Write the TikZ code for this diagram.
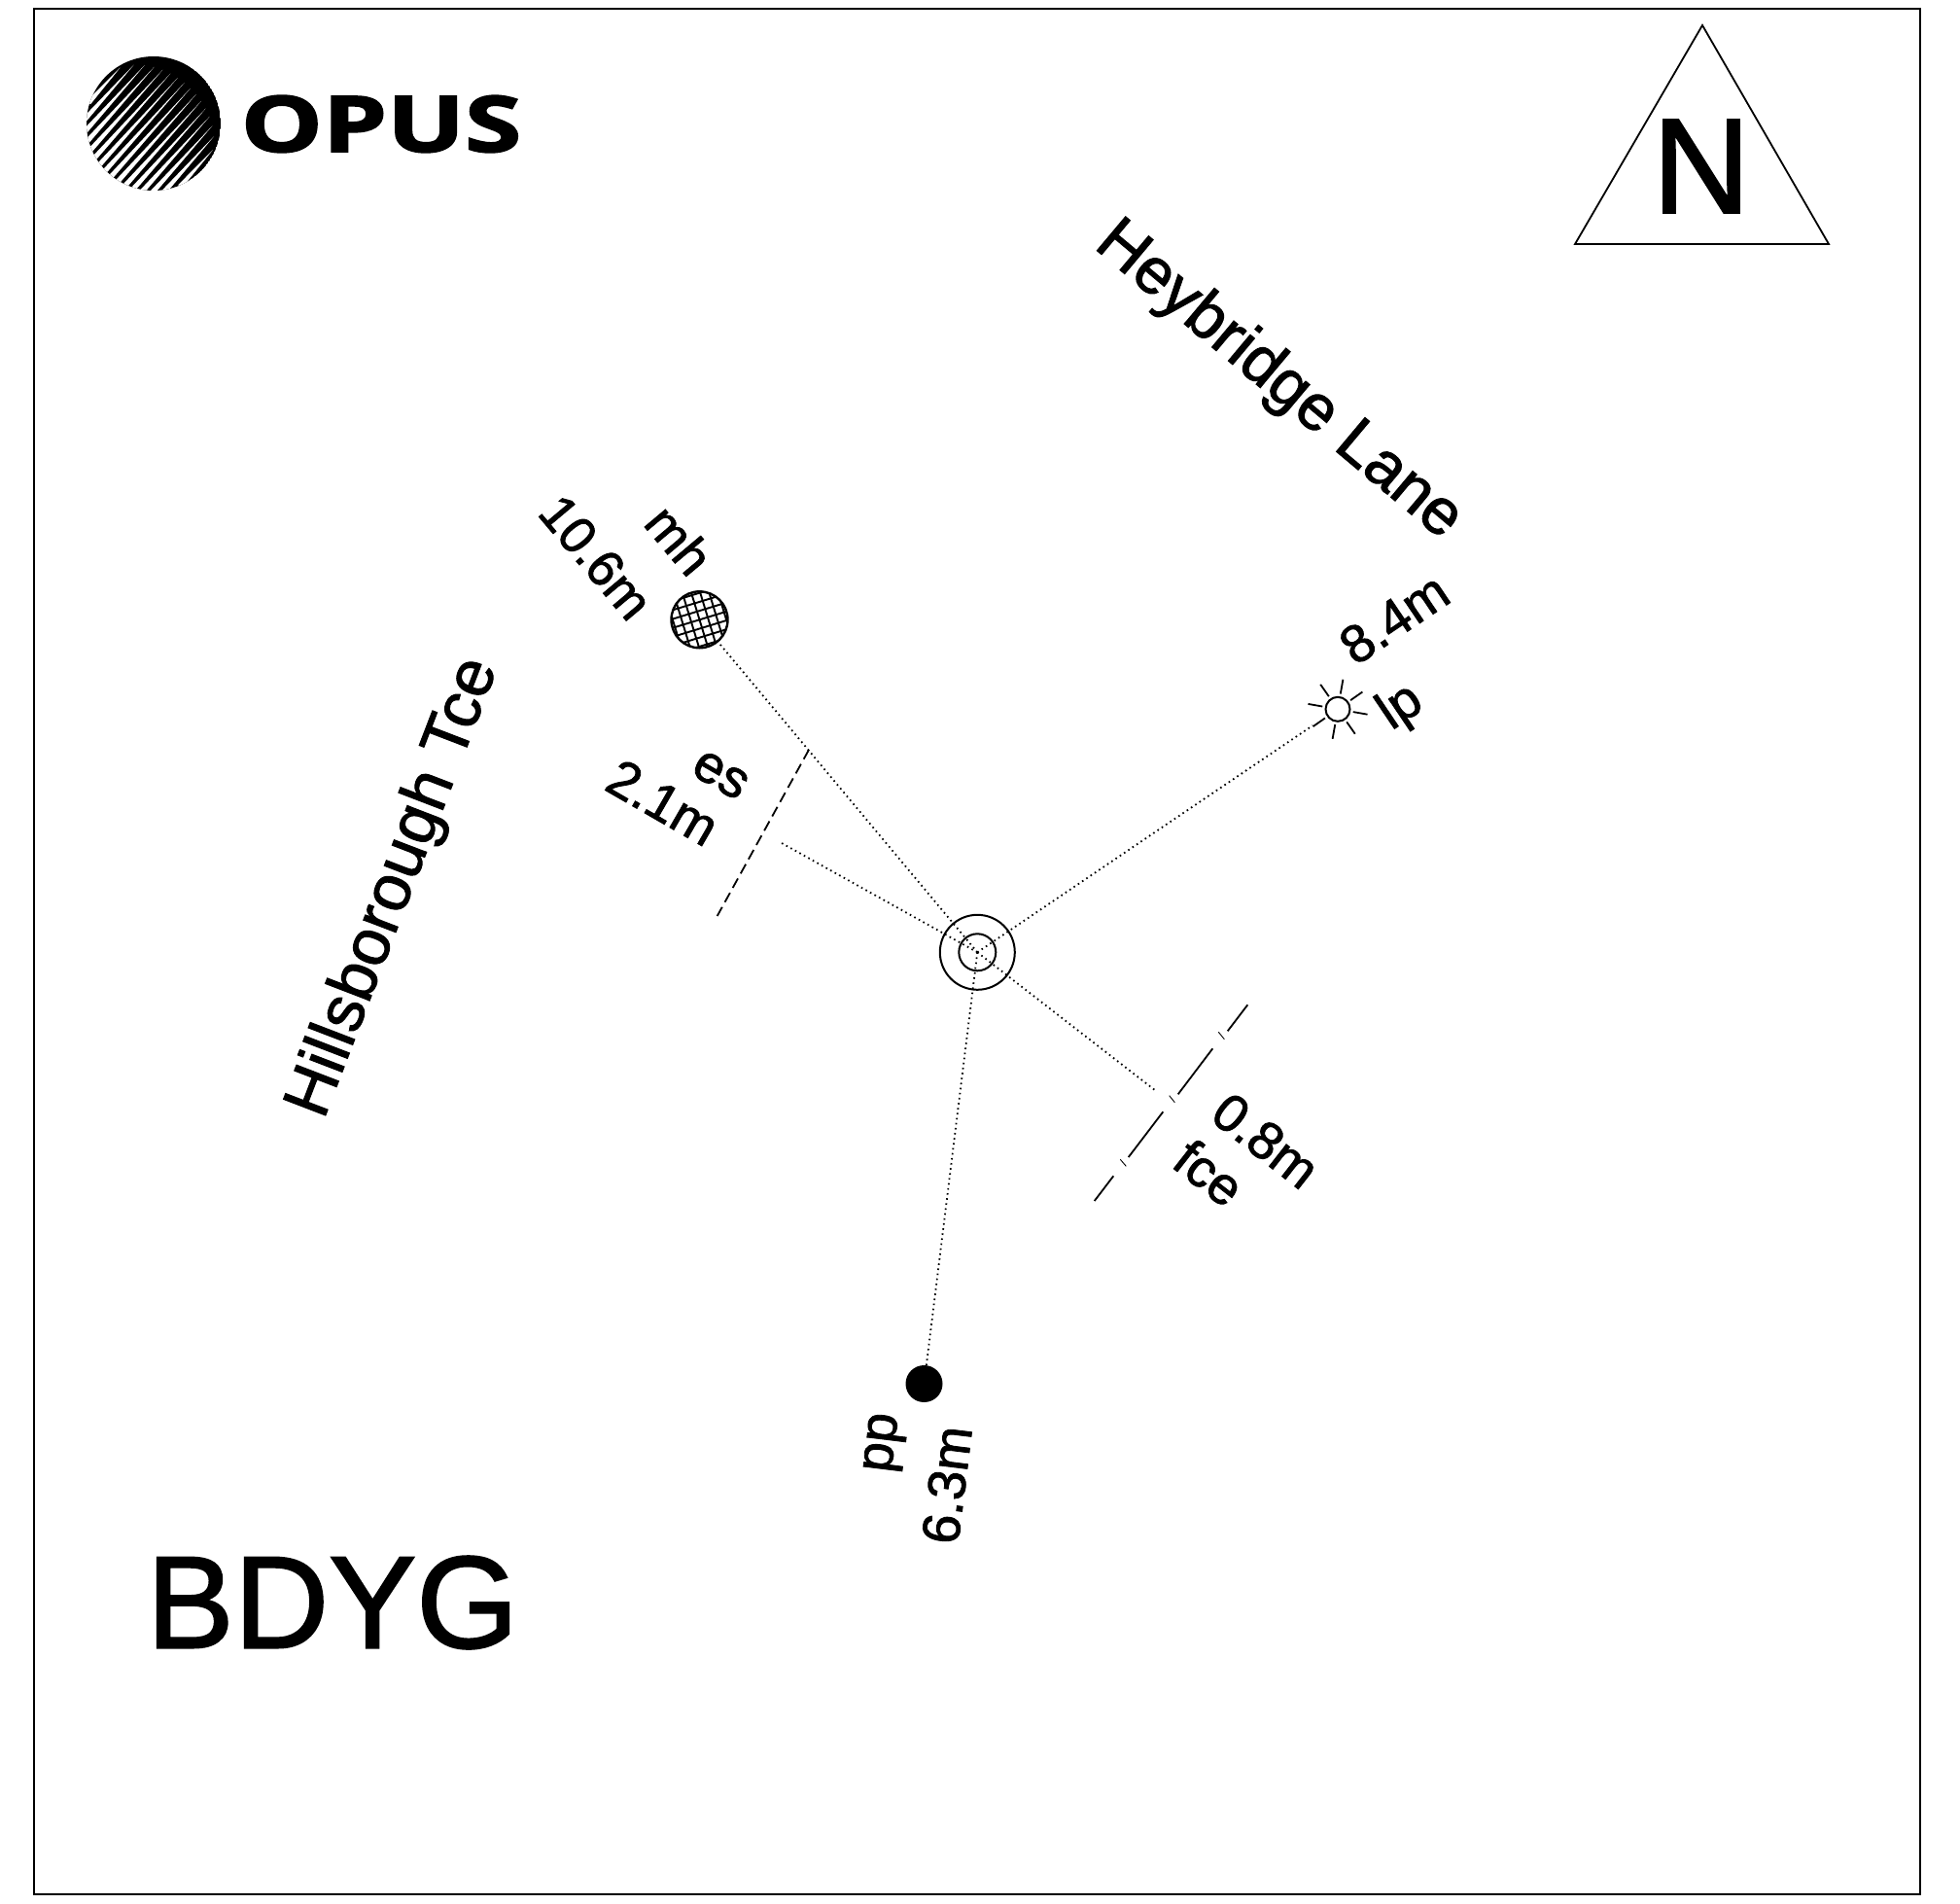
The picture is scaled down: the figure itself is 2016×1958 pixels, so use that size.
\documentclass[tikz,border=0pt]{standalone}
\usepackage{fontspec}
\usetikzlibrary{calc}
\setmainfont{Liberation Sans}[FakeBold=1.5]
\newfontfamily\logofont{Open Sans}[FakeBold=2]
\tikzset{
  frame/.style={draw=black,line width=1.6pt},
  ring/.style={circle,draw=black,line width=2pt,inner sep=0pt},
  dotline/.style={draw=black,line width=1.8pt,dash pattern=on 1.6pt off 3.6pt},
  solidline/.style={draw=black,line width=1.8pt},
  tick/.style={draw=black,line width=0.9pt},
  lab/.style={inner sep=0pt,font=\fontsize{54.5}{54.5}\selectfont},
  labsmall/.style={inner sep=0pt,font=\fontsize{53}{53}\selectfont},
  road/.style={inner sep=0pt,font=\fontsize{66.5}{66.5}\selectfont},
  roadb/.style={inner sep=0pt,font=\fontsize{67.5}{67.5}\selectfont}
}
\begin{document}
\begin{tikzpicture}[x=1pt,y=-1pt]
\useasboundingbox (0,0) rectangle (2016,1958);
\fill[white] (0,0) rectangle (2016,1958);
\draw[frame] (35,9) rectangle (1975,1948);
% logo
\begin{scope}
\clip (158,127) circle (69);
\fill[black] (158,127) circle (69);
\foreach \d in {-64,-55.5,...,66} {
  \pgfmathsetmacro{\h}{sqrt(max(69*69-\d*\d,1))}
  \pgfmathsetmacro{\bx}{158+\d*0.743-(\h+3)*0.669}
  \pgfmathsetmacro{\by}{127+\d*0.669+(\h+3)*0.743}
  \pgfmathsetmacro{\tx}{158+\d*0.743+0.76*\h*0.669}
  \pgfmathsetmacro{\ty}{127+\d*0.669-0.76*\h*0.743}
  \fill[white] (\bx+1.9,\by+1.7) -- (\tx,\ty) -- (\bx-1.9,\by-1.7) -- cycle;
}
\end{scope}
\node[inner sep=0pt,xscale=1.32,font=\logofont\bfseries\fontsize{80}{80}\selectfont] (opus) at (392,127.5) {OPUS};
% north
\coordinate (na) at (1751,26);
\coordinate (nb) at (1620,251);
\coordinate (nc) at (1881,251);
\draw[solidline] (na) -- (nb) -- (nc) -- cycle;
\node[inner sep=0pt,font=\fontsize{139}{139}\selectfont] (north) at (1750,171) {N};
\node[inner sep=0pt,font=\fontsize{135}{135}\selectfont] (bdyg) at (342,1648) {BDYG};
% roads
\node[road,rotate=-40] (hey) at (1315,392) {Heybridge Lane};
\node[roadb,rotate=69] (hil) at (406,913) {Hillsborough Tce};
% centre
\node[ring,minimum size=77pt] (c) at (1005.3,979.3) {};
\node[ring,minimum size=38pt] (ci) at (1005.3,979.3) {};
% mh
\begin{scope}
\clip (719.5,637.3) circle (29);
\foreach \k in {-4,...,4} {
  \pgfmathsetmacro{\ax}{719.5+\k*8.8*0.956}
  \pgfmathsetmacro{\ay}{637.3-\k*8.8*0.292}
  \pgfmathsetmacro{\bx}{719.5+\k*8.8*0.292}
  \pgfmathsetmacro{\by}{637.3+\k*8.8*0.956}
  \draw[line width=1.9pt] (\ax-40*0.292,\ay-40*0.956) -- (\ax+40*0.292,\ay+40*0.956);
  \draw[line width=1.9pt] (\bx-40*0.956,\by+40*0.292) -- (\bx+40*0.956,\by-40*0.292);
}
\end{scope}
\node[ring,line width=2.4pt,minimum size=58pt] (mh) at (719.5,637.3) {};
% lp
\node[ring,minimum size=25pt] (lp) at (1376,729.3) {};
\foreach \a in {10,55,100,145,190,235,280,325} {
  \draw[line width=1.8pt] ($(lp)+(\a:16)$) -- ($(lp)+(\a:31)$);
}
% pp
\node[circle,fill=black,inner sep=0pt,minimum size=38pt] (pp) at (950.5,1423) {};
% connectors
\coordinate (esEnd) at (801.7,865.7);
\coordinate (fEnd) at (1190,1122.7);
\coordinate (lpEnd) at (1350.3,746);
\draw[dotline] (c.center) -- (mh);
\draw[dotline] (c.center) -- (lpEnd);
\draw[dotline] (c.center) -- (pp);
\draw[dotline] (c.center) -- (esEnd);
\draw[dotline] (c.center) -- (fEnd);
% es
\coordinate (esA) at (832,771);
\coordinate (esB) at (737.7,942);
\draw[solidline,dash pattern=on 11pt off 5.8pt] (esA) -- (esB);
% fence
\draw[solidline] (1283.3,1033.3) -- (1262.7,1060.3);
\draw[tick] (1253.3,1061.3) -- (1259.3,1068.7);
\draw[solidline] (1247.3,1078.3) -- (1211.7,1125.3);
\draw[tick] (1202.7,1126.7) -- (1208.3,1133.7);
\draw[solidline] (1196.3,1143.3) -- (1160.7,1190);
\draw[tick] (1152.3,1192.3) -- (1158.3,1199.3);
\draw[solidline] (1145.3,1209.3) -- (1125.7,1235);
% labels
\node[labsmall,rotate=-50] (tmh) at (699,555) {mh};
\node[labsmall,rotate=-50] (dmh) at (613,573) {10.6m};
\node[lab,rotate=-30] (tes) at (741,797) {es};
\node[lab,rotate=-30] (des) at (682,825) {2.1m};
\node[lab,rotate=34] (dlp) at (1434,636) {8.4m};
\node[lab,rotate=34] (tlp) at (1441,728) {lp};
\node[lab,rotate=-38] (dfc) at (1302,1173) {0.8m};
\node[lab,rotate=-38] (tfc) at (1244,1206) {fce};
\node[lab,rotate=83] (tpp) at (911,1484) {pp};
\node[lab,rotate=83] (dpp) at (974,1527) {6.3m};
\end{tikzpicture}
\end{document}
